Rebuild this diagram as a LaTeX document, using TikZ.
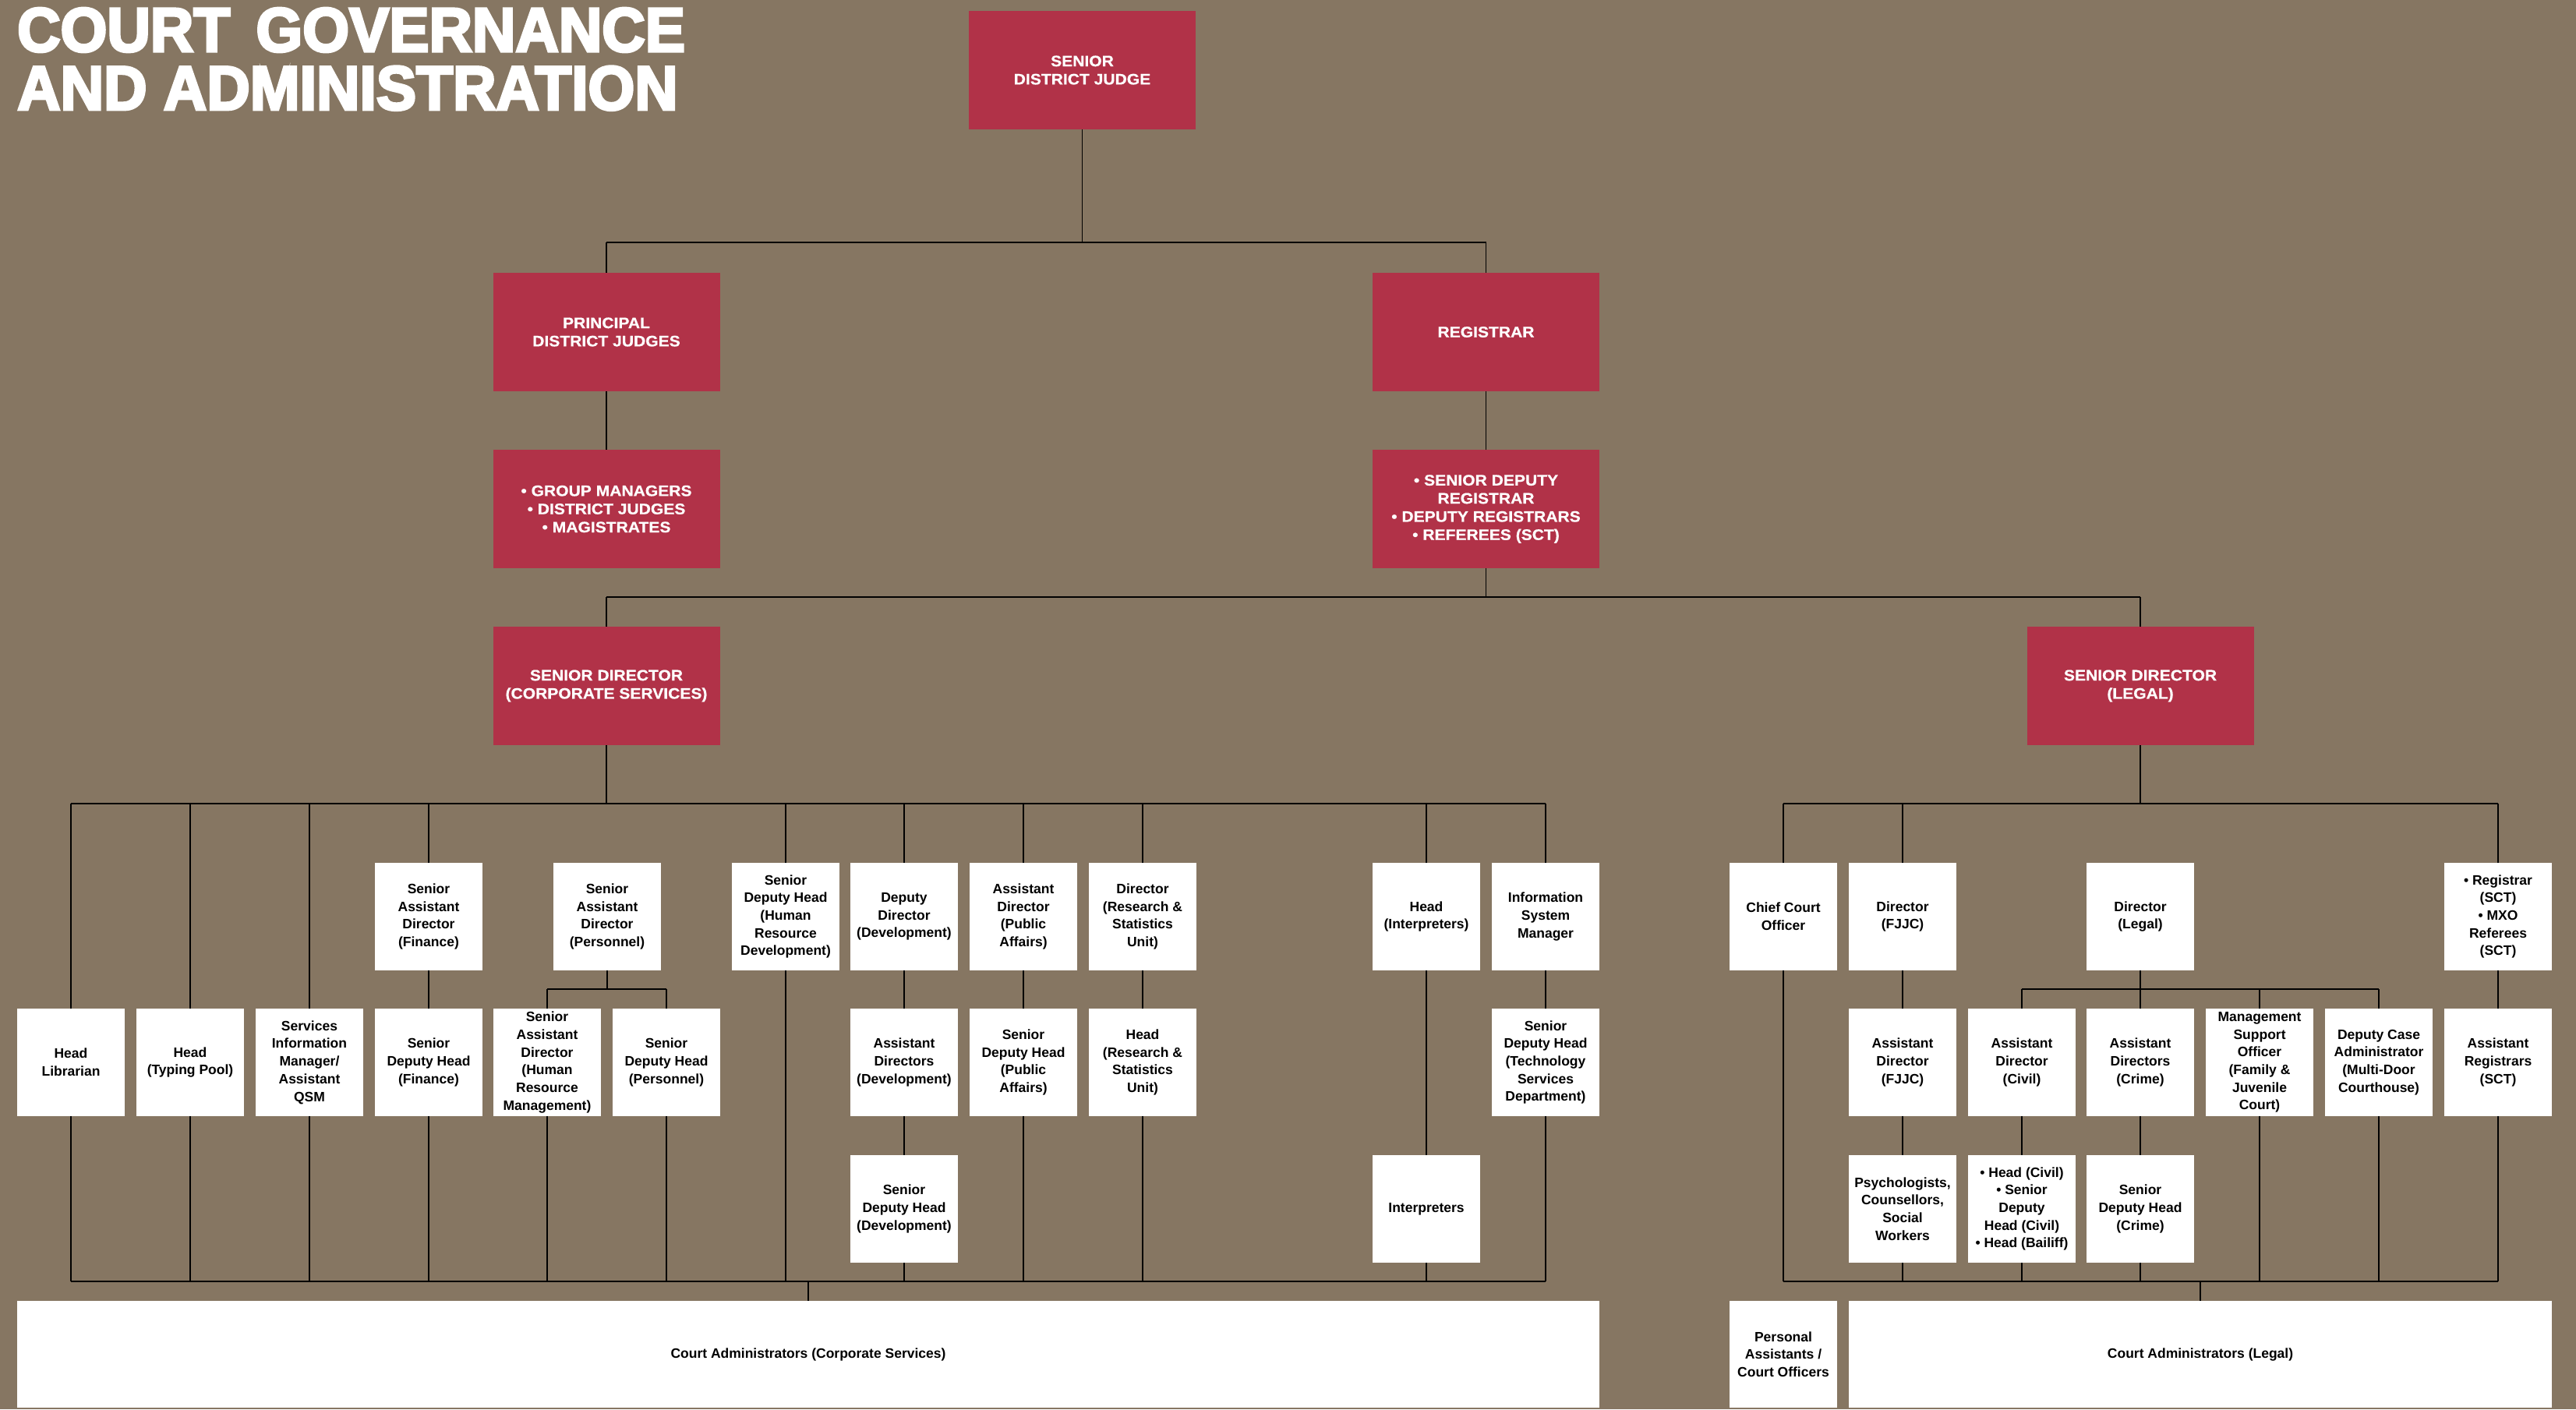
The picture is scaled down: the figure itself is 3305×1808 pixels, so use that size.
\documentclass[tikz,border=0pt]{standalone}
\usepackage{fontspec}
\setmainfont{Liberation Sans}
\newfontfamily\titlefont[FakeBold=4,FakeStretch=0.96]{Liberation Sans Bold}
\newfontfamily\redfont[FakeBold=0.6,FakeStretch=1.08]{Liberation Sans Bold}
\newfontfamily\boxfont{Liberation Sans Bold}
\definecolor{courtbrown}{RGB}{134,118,98}
\definecolor{courtred}{RGB}{177,50,72}

\begin{document}
\begin{tikzpicture}[x=1pt, y=-1pt,
    redbox/.style={fill=courtred, text=white, minimum width=291, minimum height=152, inner sep=0, align=center, font=\redfont\fontsize{19.5}{23.3}\selectfont},
    whitebox/.style={fill=white, minimum width=138, minimum height=138, inner sep=0, align=center, font=\boxfont\fontsize{17.5}{22.7}\selectfont},
    link/.style={draw=black, line width=1.6},
    bus/.style={draw=black, line width=2.4}]
    % 背景
    \fill[courtbrown] (0, 0) rectangle (3305, 1808);
    \useasboundingbox (0, 0) rectangle (3305, 1808);
    \node[anchor=north west, inner sep=0, align=left, text=white, font=\titlefont\fontsize{80}{74.7}\selectfont] (title) at (22, 10) {COURT\hspace{0.15em} GOVERNANCE\\AND ADMINISTRATION};

    % 赤いノード
    \node[redbox] (sdj) at (1388.5, 90) {SENIOR\\DISTRICT JUDGE};
    \node[redbox] (pdj) at (778, 426) {PRINCIPAL\\DISTRICT JUDGES};
    \node[redbox] (reg) at (1906.5, 426) {REGISTRAR};
    \node[redbox] (grp) at (778, 653) {• GROUP MANAGERS\\• DISTRICT JUDGES\\• MAGISTRATES};
    \node[redbox] (sdr) at (1906.5, 653) {• SENIOR DEPUTY\\REGISTRAR\\• DEPUTY REGISTRARS\\• REFEREES (SCT)};
    \node[redbox] (sdcorp) at (778, 880) {SENIOR DIRECTOR\\(CORPORATE SERVICES)};
    \node[redbox] (sdlegal) at (2746, 880) {SENIOR DIRECTOR\\(LEGAL)};

    % 白いノード (Corporate Services)
    \node[whitebox] (sadfin) at (550, 1176) {Senior\\Assistant\\Director\\(Finance)};
    \node[whitebox] (sadpers) at (779, 1176) {Senior\\Assistant\\Director\\(Personnel)};
    \node[whitebox] (sdhhrd) at (1008, 1176) {Senior\\Deputy Head\\(Human\\Resource\\Development)};
    \node[whitebox] (ddev) at (1160, 1176) {Deputy\\Director\\(Development)};
    \node[whitebox] (adpa) at (1313, 1176) {Assistant\\Director\\(Public\\Affairs)};
    \node[whitebox] (drs) at (1466, 1176) {Director\\(Research \&\\Statistics\\Unit)};
    \node[whitebox] (hint) at (1830, 1176) {Head\\(Interpreters)};
    \node[whitebox] (ism) at (1983, 1176) {Information\\System\\Manager};

    \node[whitebox] (hlib) at (91, 1363) {Head\\Librarian};
    \node[whitebox] (htyp) at (244, 1363) {Head\\(Typing Pool)};
    \node[whitebox] (sim) at (397, 1363) {Services\\Information\\Manager/\\Assistant\\QSM};
    \node[whitebox] (sdhfin) at (550, 1363) {Senior\\Deputy Head\\(Finance)};
    \node[whitebox] (sadhrm) at (702, 1363) {Senior\\Assistant\\Director\\(Human\\Resource\\Management)};
    \node[whitebox] (sdhpers) at (855, 1363) {Senior\\Deputy Head\\(Personnel)};
    \node[whitebox] (adsdev) at (1160, 1363) {Assistant\\Directors\\(Development)};
    \node[whitebox] (sdhpa) at (1313, 1363) {Senior\\Deputy Head\\(Public\\Affairs)};
    \node[whitebox] (hrs) at (1466, 1363) {Head\\(Research \&\\Statistics\\Unit)};
    \node[whitebox] (sdhtsd) at (1983, 1363) {Senior\\Deputy Head\\(Technology\\Services\\Department)};

    \node[whitebox] (sdhdev) at (1160, 1551) {Senior\\Deputy Head\\(Development)};
    \node[whitebox] (interp) at (1830, 1551) {Interpreters};

    % 白いノード (Legal)
    \node[whitebox] (cco) at (2288, 1176) {Chief Court\\Officer};
    \node[whitebox] (dfjjc) at (2441, 1176) {Director\\(FJJC)};
    \node[whitebox] (dlegal) at (2746, 1176) {Director\\(Legal)};
    \node[whitebox] (regsct) at (3205, 1176) {• Registrar\\(SCT)\\• MXO\\Referees\\(SCT)};

    \node[whitebox] (adfjjc) at (2441, 1363) {Assistant\\Director\\(FJJC)};
    \node[whitebox] (adcivil) at (2594, 1363) {Assistant\\Director\\(Civil)};
    \node[whitebox] (adcrime) at (2746, 1363) {Assistant\\Directors\\(Crime)};
    \node[whitebox] (mso) at (2899, 1363) {Management\\Support\\Officer\\(Family \&\\Juvenile\\Court)};
    \node[whitebox] (dca) at (3052, 1363) {Deputy Case\\Administrator\\(Multi-Door\\Courthouse)};
    \node[whitebox] (asreg) at (3205, 1363) {Assistant\\Registrars\\(SCT)};

    \node[whitebox] (psych) at (2441, 1551) {Psychologists,\\Counsellors,\\Social\\Workers};
    \node[whitebox] (hcivil) at (2594, 1551) {• Head (Civil)\\• Senior\\Deputy\\Head (Civil)\\• Head (Bailiff)};
    \node[whitebox] (sdhcrime) at (2746, 1551) {Senior\\Deputy Head\\(Crime)};

    % 下のノード
    \node[whitebox, minimum width=2030, minimum height=137] (cacorp) at (1037, 1737.5) {Court Administrators (Corporate Services)};
    \node[whitebox, minimum height=137] (pa) at (2288, 1737.5) {Personal\\Assistants /\\Court Officers};
    \node[whitebox, minimum width=902, minimum height=137] (calegal) at (2823, 1737.5) {Court Administrators (Legal)};

    % バスの高さ
    \coordinate (topbus) at (0, 311);
    \coordinate (midbus) at (0, 766);
    \coordinate (upbus) at (0, 1031);
    \coordinate (subbus) at (0, 1269);
    \coordinate (lowbus) at (0, 1644);

    % エッジ
    \draw[link] (sdj) -- (sdj |- topbus);
    \draw[bus] (pdj |- topbus) -- (reg |- topbus);
    \draw[link] (pdj |- topbus) -- (pdj);
    \draw[link] (reg |- topbus) -- (reg);
    \draw[link] (pdj) -- (grp);
    \draw[link] (reg) -- (sdr);
    \draw[link] (sdr) -- (sdr |- midbus);
    \draw[bus] (sdcorp |- midbus) -- (sdlegal |- midbus);
    \draw[link] (sdcorp |- midbus) -- (sdcorp);
    \draw[link] (sdlegal |- midbus) -- (sdlegal);

    % エッジ (Corporate Services)
    \draw[link] (sdcorp) -- (sdcorp |- upbus);
    \draw[bus] (hlib |- upbus) -- (ism |- upbus);
    \draw[bus] (hlib |- lowbus) -- (ism |- lowbus);
    \draw[link] (hlib |- upbus) -- (hlib) -- (hlib |- lowbus);
    \draw[link] (htyp |- upbus) -- (htyp) -- (htyp |- lowbus);
    \draw[link] (sim |- upbus) -- (sim) -- (sim |- lowbus);
    \draw[link] (sadfin |- upbus) -- (sadfin) -- (sdhfin) -- (sdhfin |- lowbus);
    \draw[link] (sadpers) -- (sadpers |- subbus);
    \draw[bus] (sadhrm |- subbus) -- (sdhpers |- subbus);
    \draw[link] (sadhrm |- subbus) -- (sadhrm) -- (sadhrm |- lowbus);
    \draw[link] (sdhpers |- subbus) -- (sdhpers) -- (sdhpers |- lowbus);
    \draw[link] (sdhhrd |- upbus) -- (sdhhrd) -- (sdhhrd |- lowbus);
    \draw[link] (ddev |- upbus) -- (ddev) -- (adsdev) -- (sdhdev) -- (sdhdev |- lowbus);
    \draw[link] (adpa |- upbus) -- (adpa) -- (sdhpa) -- (sdhpa |- lowbus);
    \draw[link] (drs |- upbus) -- (drs) -- (hrs) -- (hrs |- lowbus);
    \draw[link] (hint |- upbus) -- (hint) -- (interp) -- (interp |- lowbus);
    \draw[link] (ism |- upbus) -- (ism) -- (sdhtsd) -- (sdhtsd |- lowbus);
    \draw[link] (cacorp |- lowbus) -- (cacorp);

    % エッジ (Legal)
    \draw[link] (sdlegal) -- (sdlegal |- upbus);
    \draw[bus] (cco |- upbus) -- (regsct |- upbus);
    \draw[bus] (cco |- lowbus) -- (asreg |- lowbus);
    \draw[link] (cco |- upbus) -- (cco) -- (cco |- lowbus);
    \draw[link] (dfjjc |- upbus) -- (dfjjc) -- (adfjjc) -- (psych) -- (psych |- lowbus);
    \draw[link] (dlegal) -- (adcrime) -- (sdhcrime) -- (sdhcrime |- lowbus);
    \draw[bus] (adcivil |- subbus) -- (dca |- subbus);
    \draw[link] (adcivil |- subbus) -- (adcivil) -- (hcivil) -- (hcivil |- lowbus);
    \draw[link] (mso |- subbus) -- (mso) -- (mso |- lowbus);
    \draw[link] (dca |- subbus) -- (dca) -- (dca |- lowbus);
    \draw[link] (regsct |- upbus) -- (regsct) -- (asreg) -- (asreg |- lowbus);
    \draw[link] (calegal |- lowbus) -- (calegal);
  \end{tikzpicture}
\end{document}
